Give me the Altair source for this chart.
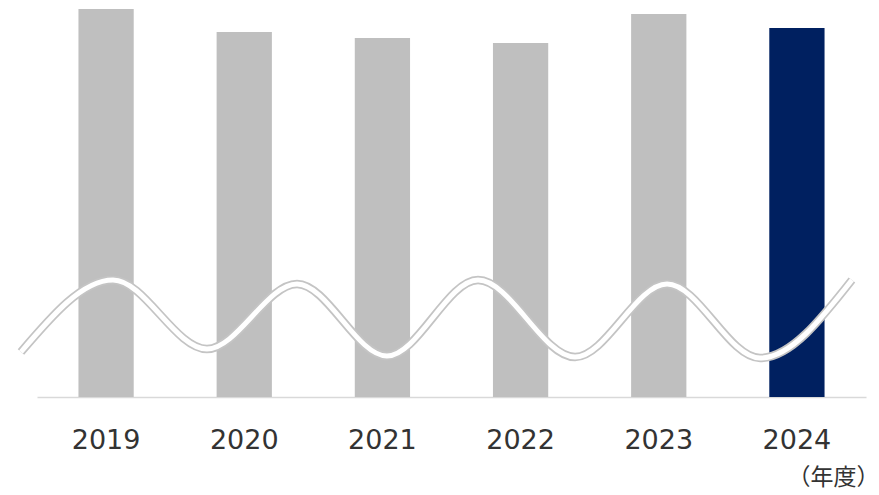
import altair as alt
import pandas as pd

# Bar data (values read as heights above baseline)
years = ["2019", "2020", "2021", "2022", "2023", "2024"]
values = [388, 365, 359, 354, 383, 369]
colors = ["#bfbfbf", "#bfbfbf", "#bfbfbf", "#bfbfbf", "#bfbfbf", "#002060"]

# Decorative axis-break wave: positions in category-index units and value units
wave_x = [-0.116, 0.550, 1.230, 1.882, 2.533, 3.192, 3.894, 4.560, 5.233, 5.898]
wave_y = [45, 117, 48, 113, 41, 117, 40, 113, 39, 117]

bars_df = pd.DataFrame({"year": years, "value": values, "color": colors})
wave_df = pd.DataFrame({"wx": wave_x, "wy": wave_y})

yscale = alt.Scale(domain=[0, 397], nice=False, zero=True)

bars = alt.Chart(bars_df).mark_bar().encode(
    x=alt.X(
        "year:N",
        scale=alt.Scale(paddingInner=0.6, paddingOuter=0.3),
        axis=alt.Axis(
            title="（年度）",
            titleX=842,
            titleAnchor="end",
            titleAlign="right",
            titleFontSize=23,
            titleFont="Noto Sans CJK JP",
            titleFontWeight="normal",
            titleColor="#333333",
            titlePadding=13,
            labelAngle=0,
            labelFont="DejaVu Sans",
            labelFontSize=27,
            labelColor="#333333",
            labelPadding=30,
            ticks=False,
            domainColor="#d9d9d9",
            domainWidth=1.5,
            grid=False,
        ),
    ),
    y=alt.Y("value:Q", scale=yscale, axis=None),
    color=alt.Color("color:N", scale=None),
)

wave_base = alt.Chart(wave_df).encode(
    x=alt.X("wx:Q", scale=alt.Scale(domain=[0, 6], nice=False, zero=False), axis=None),
    y=alt.Y("wy:Q", scale=yscale, axis=None),
)
wave_outer = wave_base.mark_line(interpolate="monotone", color="#c4c4c4", strokeWidth=8.5, strokeCap="butt")
wave_inner = wave_base.mark_line(interpolate="monotone", color="#ffffff", strokeWidth=5, strokeCap="butt")

chart = (
    alt.layer(bars, wave_outer, wave_inner)
    .resolve_scale(x="independent")
    .properties(
        width=829,
        height=397,
        padding={"left": 37, "top": 0, "right": 13, "bottom": 98},
        autosize=alt.AutoSizeParams(type="none"),
        background="#ffffff",
    )
    .configure_view(stroke=None)
)

chart.save("out.html", embed_options={"renderer": "svg", "actions": False})
